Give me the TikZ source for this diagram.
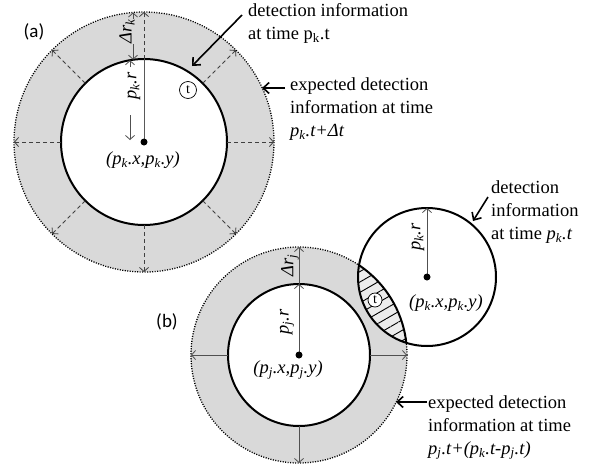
\documentclass[tikz,border=0pt]{standalone}
\usepackage{fontspec}
\setmainfont{Liberation Serif}
\newfontfamily\serifnorm{Liberation Serif}
\newfontfamily\labfont{Carlito}
\usetikzlibrary{arrows.meta,patterns.meta,calc}
\definecolor{ringgray}{RGB}{217,217,217}
\definecolor{lensgray}{RGB}{236,236,236}
\definecolor{dimgray}{RGB}{80,80,80}
\begin{document}
\begin{tikzpicture}[x=1pt,y=-1pt,
  txt/.style={font=\serifnorm\fontsize{18.5}{23}\selectfont, inner sep=0pt},
  lbl/.style={txt, align=left, anchor=north west},
  tag/.style={font=\labfont\fontsize{19}{23}\selectfont, inner sep=0pt},
  dotborder/.style={draw=black, line width=1.3pt, dash pattern=on 1.1pt off 1.4pt},
  innerc/.style={draw=black, fill=white, line width=2pt},
  dasharrow/.style={draw=black!75, line width=0.8pt, dash pattern=on 4pt off 3pt, -{Straight Barb[length=4pt,width=9pt]}},
  dimarrow/.style={draw=dimgray, line width=0.8pt, -{Straight Barb[length=4pt,width=9pt]}},
  radline/.style={draw=black!65, line width=1pt},
  callout/.style={draw=black, line width=1.6pt, -{Straight Barb[length=6pt,width=11pt]}},
  tmark/.style={circle, draw=black, fill=white, line width=0.7pt, minimum size=17pt, inner sep=0pt, font=\serifnorm\fontsize{14}{14}\selectfont},
  cdot/.style={circle, fill=black, minimum size=7pt, inner sep=0pt},
]
\useasboundingbox (0,0) rectangle (592,469);

% ---------------- (a) ----------------
\coordinate (ca) at (144,142);
\fill[ringgray] (ca) circle (130);
\draw[dotborder] (ca) circle (130);
\draw[innerc] (ca) circle (83);
\foreach \a in {0,45,...,315} {
  \coordinate (ai\a) at ($(ca)+(\a:83)$);
  \coordinate (ao\a) at ($(ca)+(\a:130)$);
  \draw[dasharrow] (ai\a) -- (ao\a);
}
\draw[radline] (ca) -- (ai270);
\node[cdot] (cadot) at (ca) {};

\node[txt, rotate=90] (drk) at (127,31) {\textit{Δr\textsubscript{k}}};
\coordinate (drkb) at (133,44);
\coordinate (drki) at (133,59.7);
\coordinate (drkt) at (133,19);
\coordinate (drko) at (133,12.5);
\draw[dimarrow] (drkb) -- (drki);
\draw[dimarrow] (drkt) -- (drko);

\node[txt, rotate=90] (pkra) at (134,86) {\textit{p\textsubscript{k}.r}};
\coordinate (pkrt) at (130,67);
\coordinate (pkri) at (130,60.2);
\coordinate (pkrb) at (130,115);
\coordinate (pkrc) at (130,140);
\draw[dimarrow] (pkrt) -- (pkri);
\draw[dimarrow] (pkrb) -- (pkrc);

\node[txt] (pka) at (143,160) {\textit{(p\textsubscript{k}.x,p\textsubscript{k}.y)}};
\node[tmark] (tka) at (188,90) {t};
\node[tag] (taga) at (34,32) {(a)};

\node[lbl] (lab1) at (248,3.5) {detection information\\at time p\textsubscript{k}.t};
\coordinate (c1s) at (242,15);
\coordinate (c1e) at (192,66);
\draw[callout] (c1s) -- (c1e);

\node[lbl] (lab2) at (290,77) {expected detection\\information at time\\\textit{p\textsubscript{k}.t+Δt}};
\coordinate (c2s) at (285,88);
\coordinate (c2e) at (262,88);
\draw[callout] (c2s) -- (c2e);

% ---------------- (b) ----------------
\coordinate (cj) at (299,355);
\fill[ringgray] (cj) circle (108);
\draw[dotborder] (cj) circle (108);
\draw[innerc] (cj) circle (71);
\foreach \a in {0,90,180,270} {
  \coordinate (bi\a) at ($(cj)+(\a:71)$);
  \coordinate (bo\a) at ($(cj)+(\a:108)$);
  \draw[dimarrow] (bi\a) -- (bo\a);
}
\draw[dimarrow] (cj) -- (bi270);
\node[cdot] (cjdot) at (cj) {};
\node[txt, rotate=90] (drj) at (290,265) {\textit{Δr\textsubscript{j}}};
\node[txt, rotate=90] (pjr) at (287,322) {\textit{p\textsubscript{j}.r}};
\node[txt] (pjc) at (288,370) {\textit{(p\textsubscript{j}.x,p\textsubscript{j}.y)}};
\node[tag] (tagb) at (167,322) {(b)};

\coordinate (ck) at (427,277);
\fill[white] (ck) circle (69);
\begin{scope}
  \clip (ck) circle (69);
  \fill[lensgray] (cj) circle (108);
  \fill[pattern={Lines[angle=30,distance=9pt,line width=0.9pt]}] (cj) circle (108);
  \draw[line width=2pt] (cj) circle (108);
\end{scope}
\draw[line width=2pt] (ck) circle (69);
\coordinate (kt) at ($(ck)+(270:69)$);
\draw[dimarrow] (ck) -- (kt);
\node[cdot] (ckdot) at (ck) {};
\node[txt, rotate=90] (pkrb2) at (418,237) {\textit{p\textsubscript{k}.r}};
\node[txt] (pkc) at (446,303) {\textit{(p\textsubscript{k}.x,p\textsubscript{k}.y)}};
\node[tmark, minimum size=14pt] (tkb) at (375,300) {t};

\node[lbl] (lab3) at (491,180) {detection\\information\\at time \textit{p\textsubscript{k}.t}};
\coordinate (c3s) at (488,197);
\coordinate (c3e) at (473,221);
\draw[callout] (c3s) -- (c3e);

\node[lbl] (lab4) at (428,395) {expected detection\\information at time\\\textit{p\textsubscript{j}.t+(p\textsubscript{k}.t-p\textsubscript{j}.t)}};
\coordinate (c4s) at (427,402);
\coordinate (c4e) at (396,402);
\draw[callout] (c4s) -- (c4e);
\end{tikzpicture}
\end{document}
